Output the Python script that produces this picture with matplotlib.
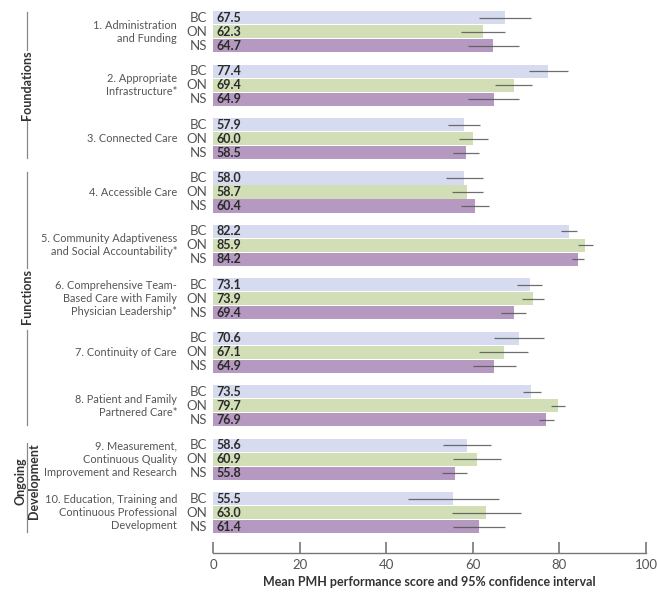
import matplotlib
matplotlib.use("Agg")
import matplotlib.pyplot as plt
import matplotlib.transforms as mtransforms
import numpy as np

plt.rcParams['font.family'] = ['Lato', 'DejaVu Sans']

categories = [
    "1. Administration\nand Funding",
    "2. Appropriate\nInfrastructure*",
    "3. Connected Care",
    "4. Accessible Care",
    "5. Community Adaptiveness\nand Social Accountability*",
    "6. Comprehensive Team-\nBased Care with Family\nPhysician Leadership*",
    "7. Continuity of Care",
    "8. Patient and Family\nPartnered Care*",
    "9. Measurement,\nContinuous Quality\nImprovement and Research",
    "10. Education, Training and\nContinuous Professional\nDevelopment",
]
provinces = ["BC", "ON", "NS"]

bc = [67.5, 77.4, 57.9, 58.0, 82.2, 73.1, 70.6, 73.5, 58.6, 55.5]
on = [62.3, 69.4, 60.0, 58.7, 85.9, 73.9, 67.1, 79.7, 60.9, 63.0]
ns = [64.7, 64.9, 58.5, 60.4, 84.2, 69.4, 64.9, 76.9, 55.8, 61.4]

# 95% CI bounds (low, high)
bc_ci = [(61.5, 73.4), (72.9, 81.9), (54.3, 61.7), (53.8, 62.3), (80.4, 84.0),
         (70.3, 76.0), (64.9, 76.4), (71.5, 75.7), (53.2, 64.1), (45.0, 66.1)]
on_ci = [(57.2, 67.4), (65.1, 73.7), (56.7, 63.4), (55.1, 62.4), (84.3, 87.7),
         (71.4, 76.4), (61.5, 72.7), (78.1, 81.2), (55.5, 66.4), (55.1, 71.1)]
ns_ci = [(59.0, 70.7), (59.0, 70.7), (55.5, 61.5), (57.2, 63.7), (82.9, 85.6),
         (66.6, 72.3), (60.1, 69.9), (75.2, 78.8), (52.9, 58.7), (55.5, 67.5)]

sections = ["Foundations", "Functions", "Ongoing\nDevelopment"]

colors = ["#d6dbf0", "#d2dfb6", "#b599c1"]
offsets = [-0.262, 0.0, 0.262]
bar_h = 0.245

fig = plt.figure(figsize=(6.58, 5.95), dpi=100)
ax = fig.add_axes([213 / 658, 42 / 595, 433 / 658, 549 / 595])

y = np.arange(len(categories))
series = [(bc, bc_ci), (on, on_ci), (ns, ns_ci)]
for k, (vals, ci) in enumerate(series):
    yy = y + offsets[k]
    ax.barh(yy, vals, height=bar_h, color=colors[k], zorder=1)
    lo = [c[0] for c in ci]
    hi = [c[1] for c in ci]
    ax.hlines(yy, lo, hi, color="#555555", lw=0.9, alpha=0.85, zorder=2)
    for i, v in enumerate(vals):
        ax.text(0.8, yy[i], f"{v:.1f}", ha="left", va="center",
                fontsize=9, fontweight="bold", color="#2b2b2b")
        ax.text(-1.3, yy[i], provinces[k], ha="right", va="center",
                fontsize=9.5, color="#555555", clip_on=False)

for i, name in enumerate(categories):
    ax.text(-8.3, y[i], name, ha="right", va="center", fontsize=7.9,
            color="#555555", linespacing=1.22, clip_on=False)

# section labels with vertical rules
tr = mtransforms.blended_transform_factory(fig.transFigure, ax.transData)
lx = 27 / 658
segs = [(-0.37, 0.34), (1.61, 2.36), (2.62, 4.42), (5.58, 7.36), (7.70, 9.36)]
for a, b in segs:
    ax.plot([lx, lx], [a, b], color="#888888", lw=0.9, transform=tr,
            clip_on=False)
label_y = [1.0, 4.96, 8.41]
for name, ly in zip(sections, label_y):
    ax.text(lx, ly, name, rotation=90, ha="center", va="center",
            fontsize=9, fontweight="bold", color="#333333", transform=tr,
            linespacing=1.15)

ax.set_xlim(0, 100)
ax.set_ylim(9.757, -0.52)
ax.set_xticks([0, 20, 40, 60, 80, 100])
ax.set_yticks([])
for s in ["top", "right", "left"]:
    ax.spines[s].set_visible(False)
ax.spines["bottom"].set_color("#777777")
ax.spines["bottom"].set_linewidth(1.0)
ax.tick_params(axis="x", direction="in", length=8, width=1.2, colors="#777777",
               labelcolor="#555555", labelsize=9.5, pad=4)
ax.set_xlabel("Mean PMH performance score and 95% confidence interval",
              fontsize=9, fontweight="bold", color="#333333", labelpad=4)

fig.savefig("out.png", dpi=100)
